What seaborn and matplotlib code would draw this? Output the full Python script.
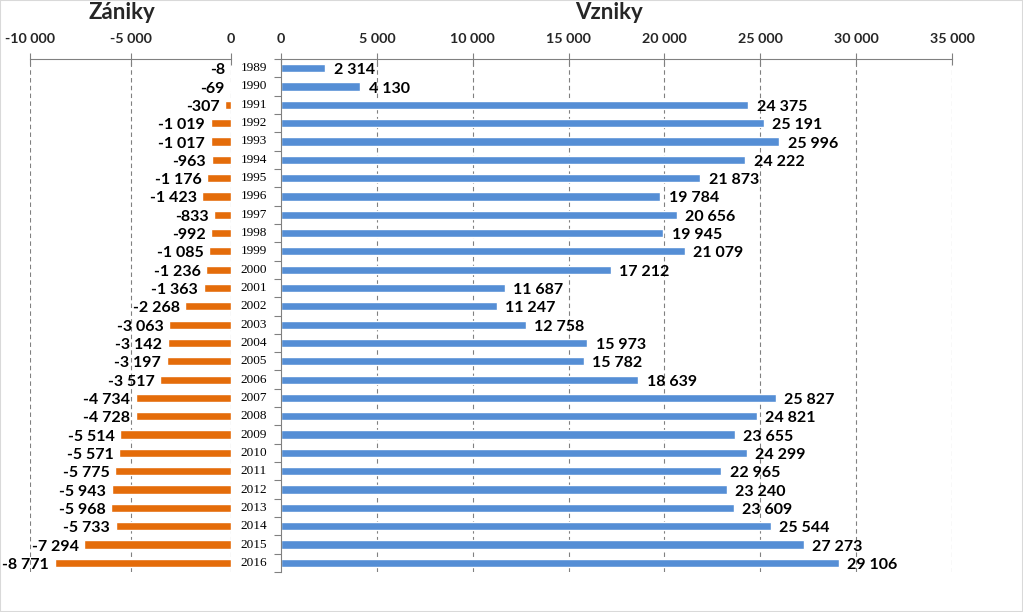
import matplotlib
matplotlib.use("Agg")
import matplotlib.pyplot as plt
import seaborn as sns
import pandas as pd
from matplotlib.patches import Rectangle
import matplotlib.transforms as mtransforms

years = [str(y) for y in range(1989, 2017)]
zaniky = [-8, -69, -307, -1019, -1017, -963, -1176, -1423, -833, -992, -1085, -1236,
          -1363, -2268, -3063, -3142, -3197, -3517, -4734, -4728, -5514, -5571, -5775,
          -5943, -5968, -5733, -7294, -8771]
vzniky = [2314, 4130, 24375, 25191, 25996, 24222, 21873, 19784, 20656, 19945, 21079,
          17212, 11687, 11247, 12758, 15973, 15782, 18639, 25827, 24821, 23655, 24299,
          22965, 23240, 23609, 25544, 27273, 29106]
left_ticks = [-10000, -5000, 0]
right_ticks = [0, 5000, 10000, 15000, 20000, 25000, 30000, 35000]

sns.set_theme(style="white")
plt.rcParams['font.family'] = ['Lato', 'DejaVu Sans']

df = pd.DataFrame({"rok": years, "zaniky": zaniky, "vzniky": vzniky})

def fmt(v):
    s = f"{abs(v):,}".replace(",", " ")
    return ("-" if v < 0 else "") + s

fig = plt.figure(figsize=(10.23, 6.12), dpi=100)
fig.patches.append(Rectangle((0, 0), 1, 1, transform=fig.transFigure, fill=False,
                             edgecolor="#d9d9d9", linewidth=1.5))

bottom = 1 - 572 / 612
height = (572 - 59) / 612
axL = fig.add_axes([30 / 1023, bottom, 201 / 1023, height])
axR = fig.add_axes([281 / 1023, bottom, 671 / 1023, height])

orange = "#E46C0A"
blue = "#558ED5"

sns.barplot(data=df, y="rok", x="zaniky", orient="h", color=orange, width=0.45,
            ax=axL, saturation=1)
sns.barplot(data=df, y="rok", x="vzniky", orient="h", color=blue, width=0.45,
            ax=axR, saturation=1)

for ax, ticks, lims in [(axL, left_ticks, (-10000, 0)), (axR, right_ticks, (0, 35000))]:
    ax.set_xlim(*lims)
    ax.set_ylim(len(years) - 0.5, -0.5)
    ax.set_xticks(ticks)
    ax.set_xticklabels([fmt(t) for t in ticks], fontsize=10.3, fontweight="bold")
    ax.xaxis.tick_top()
    ax.tick_params(axis="x", which="major", direction="inout", length=8, width=0.8,
                   color="#808080", pad=6, top=True, bottom=False)
    ax.set_xlabel("")
    ax.set_ylabel("")
    for t in ticks:
        if not (ax is axR and t == 0):
            ax.axvline(t, color="#808080", linestyle=(0, (4, 3)), linewidth=0.8, zorder=0)
    for s in ["bottom", "right", "left"]:
        ax.spines[s].set_visible(False)
    ax.spines["top"].set_color("#808080")
    ax.spines["top"].set_linewidth(0.8)

axL.set_yticks([])
axR.set_yticks([])
axR.spines["left"].set_visible(True)
axR.spines["left"].set_color("#808080")
axR.spines["left"].set_linewidth(0.8)
axR.set_yticks([i + 0.5 for i in range(-1, len(years))], minor=True)
axR.tick_params(axis="y", which="minor", left=True, length=5, width=0.8, color="#808080")

annsL = axL.bar_label(axL.containers[0], labels=[fmt(v) for v in zaniky], padding=4,
                      fontsize=11.5, fontweight="bold", color="black")
annsR = axR.bar_label(axR.containers[0], labels=[fmt(v) for v in vzniky], padding=6,
                      fontsize=11.5, fontweight="bold", color="black")
for a in list(annsL) + list(annsR):
    x, y = a.xyann
    a.xyann = (x, -1.5)

trans = mtransforms.blended_transform_factory(fig.transFigure, axR.transData)
for i, y in enumerate(years):
    fig.text(254 / 1023, i, y, transform=trans, ha="center", va="center",
             fontsize=9.5, family=["Liberation Serif", "DejaVu Serif"], color="black")

fig.text(122 / 1023, 1 - 19 / 612, "Zániky", ha="center", va="baseline",
         fontsize=16, fontweight="bold")
fig.text(609 / 1023, 1 - 19 / 612, "Vzniky", ha="center", va="baseline",
         fontsize=16, fontweight="bold")

fig.savefig("out.png", dpi=100)
